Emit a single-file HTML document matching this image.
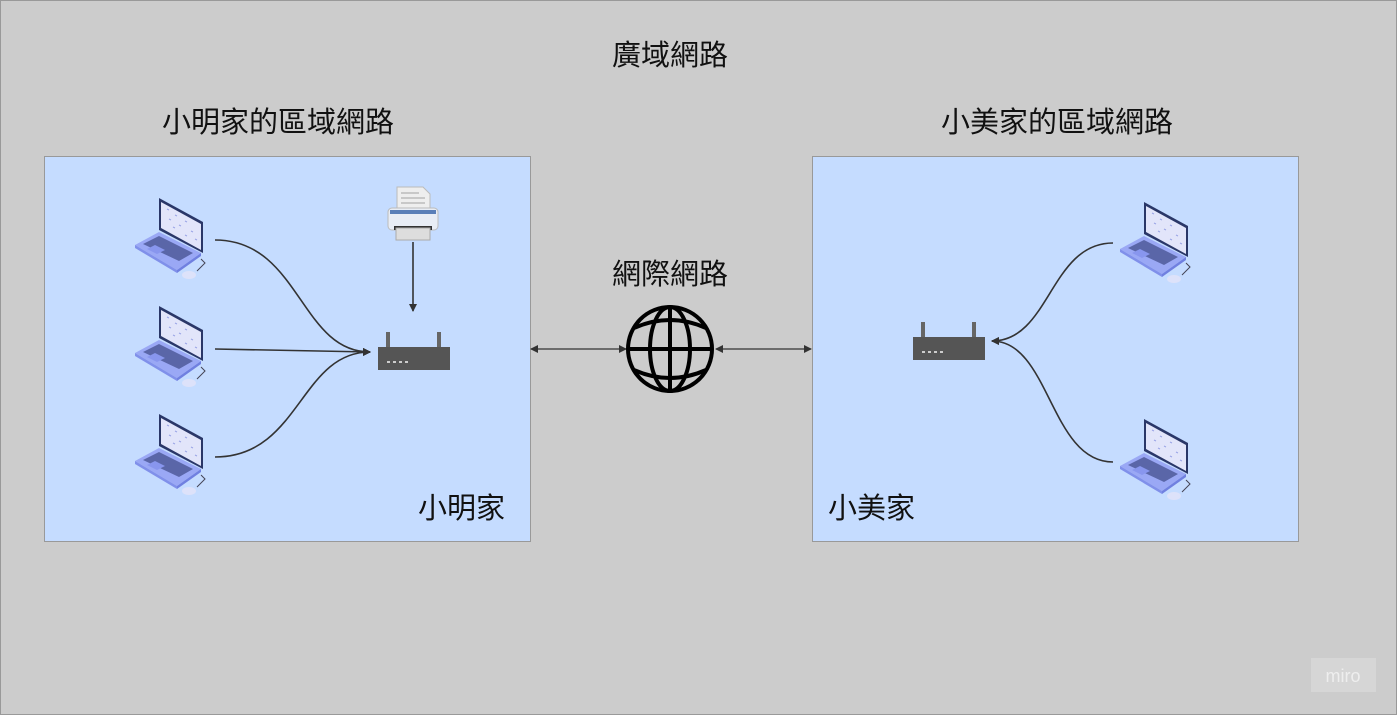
<!DOCTYPE html>
<html><head><meta charset="utf-8"><style>
html,body{margin:0;padding:0;background:#cccccc;}
svg{display:block;}
text{font-family:"Liberation Sans","Noto Sans CJK TC",sans-serif;fill:#111;}
</style></head><body>
<svg width="1397" height="715" viewBox="0 0 1397 715" xmlns="http://www.w3.org/2000/svg">
<defs>
<g id="lap">
  <polygon points="0,48 24,35 66,56 42,73" fill="#9aa8f5"/>
  <polygon points="0,48 42,73 42,76 0,51" fill="#8090ea"/>
  <polygon points="42,73 66,56 66,59 42,76" fill="#7080e0"/>
  <polygon points="8,47 24,39 58,56 44,64" fill="#5a66a8"/>
  <polygon points="12,52 20,48 30,53 22,57" fill="#8896ee"/>
  <polygon points="24,1 68,25 68,56 24,33" fill="#2a3768"/>
  <polygon points="26,5 66,27 66,53 26,31" fill="#e2e5fa"/>
  <path d="M32,12 l2,1 M40,18 l2,1 M50,24 l2,1 M34,22 l2,1 M44,28 l2,1 M56,34 l2,1 M38,30 l2,1 M50,38 l2,1 M60,42 l2,1" stroke="#9aa4e6" stroke-width="1"/>
  <path d="M66,62 L70,66 L62,74" stroke="#445" fill="none" stroke-width="1"/>
  <ellipse cx="54" cy="78" rx="7" ry="4" fill="#dde2fa"/>
</g>
<g id="rtr">
  <rect x="8" y="0" width="4" height="16" fill="#666"/>
  <rect x="59" y="0" width="4" height="16" fill="#666"/>
  <rect x="0" y="15" width="72" height="23" fill="#555"/>
  <rect x="9" y="29" width="3" height="2" fill="#ccc"/><rect x="15" y="29" width="3" height="2" fill="#ccc"/><rect x="21" y="29" width="3" height="2" fill="#ccc"/><rect x="27" y="29" width="3" height="2" fill="#ccc"/>
</g>
<marker id="ah" markerWidth="8" markerHeight="8" refX="7" refY="4" orient="auto" markerUnits="userSpaceOnUse"><path d="M0,0 L8,4 L0,8 z" fill="#333"/></marker>
<marker id="as" markerWidth="8" markerHeight="8" refX="1" refY="4" orient="auto" markerUnits="userSpaceOnUse"><path d="M8,0 L0,4 L8,8 z" fill="#333"/></marker>
</defs>
<rect x="0.5" y="0.5" width="1396" height="714" fill="#cccccc" stroke="#999"/>
<text x="670" y="65" font-size="29" text-anchor="middle">廣域網路</text>
<text x="278" y="132" font-size="29" text-anchor="middle">小明家的區域網路</text>
<text x="1057" y="132" font-size="29" text-anchor="middle">小美家的區域網路</text>
<rect x="44.5" y="156.5" width="486" height="385" fill="#c5dcff" stroke="#999"/>
<rect x="812.5" y="156.5" width="486" height="385" fill="#c5dcff" stroke="#999"/>
<text x="418" y="518" font-size="29">小明家</text>
<text x="828" y="518" font-size="29">小美家</text>
<text x="670" y="284" font-size="29" text-anchor="middle">網際網路</text>
<use href="#lap" x="135" y="197"/>
<use href="#lap" x="135" y="305"/>
<use href="#lap" x="135" y="413"/>
<use href="#lap" x="1120" y="201"/>
<use href="#lap" x="1120" y="418"/>
<use href="#rtr" x="378" y="332"/>
<use href="#rtr" x="913" y="322"/>
<g>
  <polygon points="397,187 423,187 430,194 430,214 397,214" fill="#eee" stroke="#bbb"/>
  <path d="M401,193 h18 M401,198 h24 M401,203 h24" stroke="#bbb" stroke-width="1.5"/>
  <rect x="388" y="208" width="50" height="22" rx="4" fill="#e8edf5" stroke="#bbb"/>
  <rect x="390" y="210" width="46" height="4" fill="#5a7fb8"/>
  <rect x="394" y="226" width="38" height="4" fill="#333"/>
  <rect x="396" y="228" width="34" height="12" fill="#ddd" stroke="#aaa"/>
</g>
<g fill="none" stroke="#333" stroke-width="1.6">
  <path d="M215,240 C300,240 300,352 370,352" marker-end="url(#ah)"/>
  <path d="M215,349 L370,352" marker-end="url(#ah)"/>
  <path d="M215,457 C300,457 300,352 370,352" marker-end="url(#ah)"/>
  <path d="M413,242 L413,311" marker-end="url(#ah)"/>
  <path d="M1113,243 C1050,243 1050,341 992,341" marker-end="url(#ah)"/>
  <path d="M1113,462 C1050,462 1050,341 992,341" marker-end="url(#ah)"/>
</g>
<g fill="none" stroke="#333" stroke-width="1.3">
  <path d="M531,349 L626,349" marker-start="url(#as)" marker-end="url(#ah)"/>
  <path d="M716,349 L811,349" marker-start="url(#as)" marker-end="url(#ah)"/>
</g>
<g fill="none" stroke="#000" stroke-width="4">
  <circle cx="670" cy="349" r="42"/>
  <ellipse cx="670" cy="349" rx="20" ry="42"/>
  <line x1="670" y1="307" x2="670" y2="391"/>
  <line x1="628" y1="349" x2="712" y2="349"/>
  <path d="M634,328 Q670,312 706,328"/>
  <path d="M634,370 Q670,386 706,370"/>
</g>
<rect x="1311" y="658" width="65" height="34" fill="#d6d6d6"/>
<text x="1343" y="682" font-size="18" text-anchor="middle" style="fill:#eee">miro</text>
</svg>
</body></html>
